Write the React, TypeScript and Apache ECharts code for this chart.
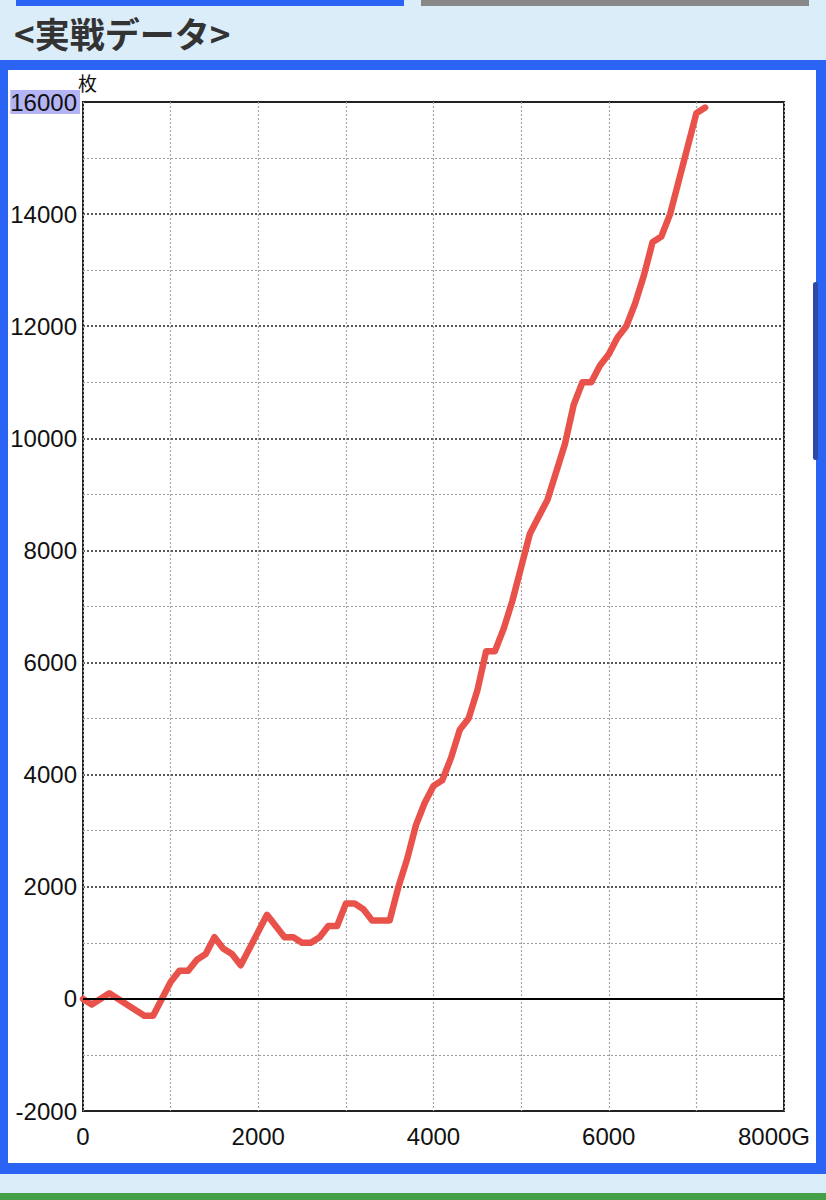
import React, { useEffect, useRef } from "react";
import * as echarts from "echarts";

// Game count (G) and medal difference (枚) vertices
const gameCounts = [
  0, 100, 300, 700, 800, 1000, 1100, 1200, 1300, 1400, 1500, 1600, 1700, 1800,
  2100, 2300, 2400, 2500, 2600, 2700, 2800, 2900, 3000, 3100, 3200, 3300, 3500,
  3600, 3700, 3800, 3900, 4000, 4100, 4200, 4300, 4400, 4500, 4600, 4700, 4800,
  4900, 5000, 5100, 5200, 5300, 5400, 5500, 5600, 5700, 5800, 5900, 6000, 6100,
  6200, 6300, 6400, 6500, 6600, 6700, 6800, 6900, 7000, 7100,
];
const medals = [
  0, -100, 100, -300, -300, 300, 500, 500, 700, 800, 1100, 900, 800, 600,
  1500, 1100, 1100, 1000, 1000, 1100, 1300, 1300, 1700, 1700, 1600, 1400, 1400,
  2000, 2500, 3100, 3500, 3800, 3900, 4300, 4800, 5000, 5500, 6200, 6200, 6600,
  7100, 7700, 8300, 8600, 8900, 9400, 9900, 10600, 11000, 11000, 11300, 11500, 11800,
  12000, 12400, 12900, 13500, 13600, 14000, 14600, 15200, 15800, 15900,
];

const xMin = 0;
const xMax = 8000;
const xInterval = 2000;
const yMin = -2000;
const yMax = 16000;
const yInterval = 2000;
const titleText = "<実戦データ>";
const unitText = "枚";
const xLastSuffix = "G";

const NUM_FONT = "'Liberation Sans', Arial, Helvetica, sans-serif";
const JP_FONT = "'Noto Sans CJK JP', 'Noto Sans', sans-serif";
const LABEL_SIZE = 24;

export default function App() {
  const ref = useRef<HTMLDivElement>(null);

  useEffect(() => {
    document.body.style.margin = "0";
    const el = ref.current;
    if (!el) return;
    const chart = echarts.init(el, undefined, { renderer: "svg" });
    const data = gameCounts.map((g, i) => [g, medals[i]]);

    chart.setOption({
      animation: false,
      backgroundColor: "transparent",
      grid: {
        left: 83,
        right: 42,
        top: 102,
        bottom: 89,
        show: true,
        borderColor: "#222",
        borderWidth: 2,
        backgroundColor: "transparent",
        outerBoundsMode: "none",
        containLabel: false,
      },
      xAxis: {
        type: "value",
        min: xMin,
        max: xMax,
        interval: xInterval,
        axisLine: { show: false },
        axisTick: { show: false },
        minorTick: { show: false, splitNumber: 2 },
        splitLine: {
          show: true,
          lineStyle: { color: "#a8a8a8", width: 1.2, type: [2, 2] },
        },
        minorSplitLine: {
          show: true,
          lineStyle: { color: "#a8a8a8", width: 1.2, type: [2, 2] },
        },
        axisLabel: {
          margin: 13,
          color: "#111",
          fontSize: LABEL_SIZE,
          fontFamily: NUM_FONT,
          formatter: (v: number) =>
            v === xMax ? `{g|${v}${xLastSuffix}}` : `{n|${v}}`,
          rich: {
            n: { fontSize: LABEL_SIZE, fontFamily: NUM_FONT, color: "#111" },
            g: {
              fontSize: LABEL_SIZE,
              fontFamily: NUM_FONT,
              color: "#111",
              padding: [0, 20, 0, 0],
            },
          },
        },
      },
      yAxis: {
        type: "value",
        min: yMin,
        max: yMax,
        interval: yInterval,
        axisLine: { show: false },
        axisTick: { show: false },
        minorTick: { show: false, splitNumber: 2 },
        splitLine: {
          show: true,
          lineStyle: { color: "#222", width: 1.5, type: [2, 2] },
        },
        minorSplitLine: {
          show: true,
          lineStyle: { color: "#9a9a9a", width: 1.2, type: [2, 2] },
        },
        axisLabel: {
          margin: 3,
          color: "#111",
          fontSize: LABEL_SIZE,
          fontFamily: NUM_FONT,
          formatter: (v: number) => (v === yMax ? `{h|${v}}` : `{n|${v}}`),
          rich: {
            n: {
              fontSize: LABEL_SIZE,
              fontFamily: NUM_FONT,
              color: "#111",
              padding: [0, 3, 0, 0],
            },
            h: {
              fontSize: LABEL_SIZE,
              fontFamily: NUM_FONT,
              color: "#111",
              backgroundColor: "#b4b4f4",
              lineHeight: 22,
              padding: [0, 3, 0, 0],
            },
          },
        },
      },
      graphic: [
        {
          type: "text",
          left: 14,
          top: 15,
          style: {
            text: titleText,
            fontSize: 35,
            fontWeight: "bold",
            fontFamily: JP_FONT,
            fill: "#333",
          },
        },
        {
          type: "text",
          left: 78,
          top: 73,
          style: {
            text: unitText,
            fontSize: 19,
            fontFamily: JP_FONT,
            fill: "#111",
          },
        },
      ],
      series: [
        {
          type: "line",
          data: [],
          z: 1,
          markLine: {
            silent: true,
            symbol: ["none", "none"],
            label: { show: false },
            lineStyle: { color: "#000", width: 2, type: "solid" },
            data: [{ yAxis: 0 }],
          },
        },
        {
          type: "line",
          data,
          z: 3,
          showSymbol: false,
          symbol: "none",
          lineStyle: {
            color: "#e8524a",
            width: 6.5,
            join: "round",
            cap: "round",
          },
        },
      ],
    });

    return () => chart.dispose();
  }, []);

  return (
    <div
      style={{
        position: "absolute",
        left: 0,
        top: 0,
        width: 826,
        height: 1200,
        background: "#dbedf9",
        overflow: "hidden",
      }}
    >
      <div style={{ position: "absolute", left: 16, top: 0, width: 388, height: 6, background: "#2b63f5" }} />
      <div style={{ position: "absolute", left: 421, top: 0, width: 388, height: 6, background: "#888888" }} />
      <div style={{ position: "absolute", left: 0, top: 60, width: 826, height: 1114, background: "#2b63f5" }} />
      <div style={{ position: "absolute", left: 8, top: 70, width: 808, height: 1093, background: "#ffffff" }} />
      <div style={{ position: "absolute", left: 0, top: 1193, width: 826, height: 7, background: "#43a047" }} />
      <div
        ref={ref}
        style={{ position: "absolute", left: 0, top: 0, width: 826, height: 1200 }}
      />
      <div
        style={{
          position: "absolute",
          left: 813,
          top: 282,
          width: 5,
          height: 178,
          borderRadius: 3,
          background: "#2c4aa6",
        }}
      />
    </div>
  );
}
